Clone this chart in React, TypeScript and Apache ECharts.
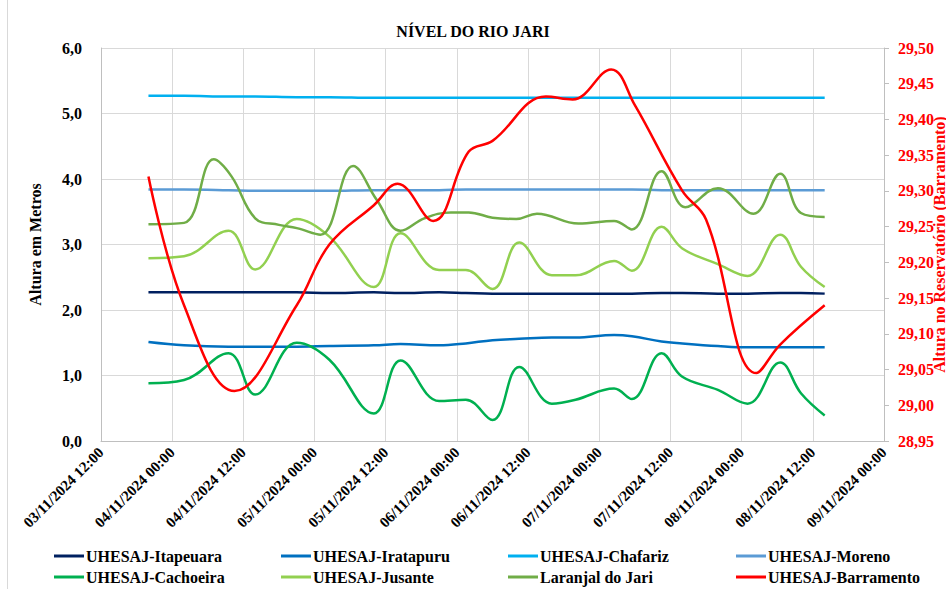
import React, { useEffect, useRef } from "react";
import * as echarts from "echarts";

// ---- data ----
const xTickStart = "03/11/2024 12:00";
const xTickEnd = "09/11/2024 00:00";

const timesMain = [
  "03/11/2024 20:00", "04/11/2024 02:00", "04/11/2024 09:30", "04/11/2024 14:00",
  "04/11/2024 21:00", "05/11/2024 02:30", "05/11/2024 10:00", "05/11/2024 14:30",
  "05/11/2024 21:00", "06/11/2024 01:30", "06/11/2024 06:00", "06/11/2024 10:30",
  "06/11/2024 16:00", "06/11/2024 20:00", "07/11/2024 02:30", "07/11/2024 05:30",
  "07/11/2024 10:30", "07/11/2024 14:00", "07/11/2024 20:00", "08/11/2024 01:00",
  "08/11/2024 06:30", "08/11/2024 10:00", "08/11/2024 14:00",
];
const itapeuara = [2.27, 2.27, 2.27, 2.27, 2.27, 2.26, 2.27, 2.26, 2.27, 2.26, 2.25, 2.25, 2.25, 2.25, 2.25, 2.25, 2.26, 2.26, 2.25, 2.25, 2.26, 2.26, 2.25];
const iratapuru = [1.51, 1.46, 1.44, 1.44, 1.44, 1.45, 1.46, 1.48, 1.46, 1.49, 1.54, 1.56, 1.58, 1.58, 1.62, 1.60, 1.52, 1.49, 1.45, 1.43, 1.43, 1.43, 1.43];
const chafariz = [5.27, 5.27, 5.26, 5.26, 5.25, 5.25, 5.24, 5.24, 5.24, 5.24, 5.24, 5.24, 5.24, 5.24, 5.24, 5.24, 5.24, 5.24, 5.24, 5.24, 5.24, 5.24, 5.24];
const moreno = [3.84, 3.84, 3.83, 3.82, 3.82, 3.82, 3.83, 3.83, 3.83, 3.84, 3.84, 3.84, 3.84, 3.84, 3.84, 3.84, 3.83, 3.83, 3.83, 3.83, 3.83, 3.83, 3.83];
const cachoeira = [0.88, 0.93, 1.34, 0.71, 1.50, 1.24, 0.42, 1.23, 0.61, 0.63, 0.32, 1.13, 0.57, 0.63, 0.80, 0.64, 1.34, 0.98, 0.78, 0.57, 1.20, 0.73, 0.39];
const jusante = [2.79, 2.82, 3.21, 2.62, 3.39, 3.12, 2.35, 3.17, 2.61, 2.61, 2.32, 3.03, 2.53, 2.53, 2.75, 2.60, 3.27, 2.94, 2.70, 2.52, 3.15, 2.66, 2.35];

const timesLaranjal = [
  "03/11/2024 20:00", "04/11/2024 02:00", "04/11/2024 07:00", "04/11/2024 10:00",
  "04/11/2024 14:00", "04/11/2024 18:00", "04/11/2024 21:00", "05/11/2024 01:00",
  "05/11/2024 06:30", "05/11/2024 10:30", "05/11/2024 14:30", "05/11/2024 18:30",
  "05/11/2024 23:00", "06/11/2024 02:00", "06/11/2024 06:00", "06/11/2024 10:00",
  "06/11/2024 13:30", "06/11/2024 20:30", "07/11/2024 02:30", "07/11/2024 05:30",
  "07/11/2024 10:30", "07/11/2024 14:30", "07/11/2024 20:00", "08/11/2024 02:00",
  "08/11/2024 06:30", "08/11/2024 10:00", "08/11/2024 14:00",
];
const laranjal = [3.31, 3.33, 4.30, 4.04, 3.40, 3.30, 3.25, 3.15, 4.20, 3.68, 3.21, 3.40, 3.49, 3.49, 3.41, 3.39, 3.47, 3.32, 3.36, 3.23, 4.12, 3.57, 3.86, 3.47, 4.08, 3.48, 3.42];

const timesBarramento = [
  "03/11/2024 20:00", "04/11/2024 02:00", "04/11/2024 10:30", "04/11/2024 21:00",
  "05/11/2024 02:30", "05/11/2024 10:00", "05/11/2024 14:00", "05/11/2024 20:00",
  "06/11/2024 02:00", "06/11/2024 06:00", "06/11/2024 15:00", "06/11/2024 19:30",
  "07/11/2024 02:00", "07/11/2024 06:00", "07/11/2024 14:00", "07/11/2024 18:00",
  "08/11/2024 02:30", "08/11/2024 06:30", "08/11/2024 14:00",
];
const barramento = [29.32, 29.14, 29.02, 29.14, 29.225, 29.28, 29.31, 29.258, 29.355, 29.37, 29.432, 29.428, 29.47, 29.42, 29.30, 29.26, 29.045, 29.085, 29.14];

const seriesNames = [
  "UHESAJ-Itapeuara", "UHESAJ-Iratapuru", "UHESAJ-Chafariz", "UHESAJ-Moreno",
  "UHESAJ-Cachoeira", "UHESAJ-Jusante", "Laranjal do Jari", "UHESAJ-Barramento",
];
const seriesColors = ["#002060", "#0070C0", "#00B0F0", "#5B9BD5", "#00B050", "#92D050", "#70AD47", "#FF0000"];

// ---- helpers ----
const FONT = "'Liberation Serif', 'Times New Roman', serif";
const toMs = (s: string) => {
  const [d, t] = s.split(" ");
  const [dd, mm, yy] = d.split("/").map(Number);
  const [hh, mi] = t.split(":").map(Number);
  return Date.UTC(yy, mm - 1, dd, hh, mi);
};
const T0 = toMs(xTickStart);
const hours = (s: string) => (toMs(s) - T0) / 3600000;
const pad = (n: number) => String(n).padStart(2, "0");
const fmtHour = (h: number) => {
  const d = new Date(T0 + h * 3600000);
  return `${pad(d.getUTCDate())}/${pad(d.getUTCMonth() + 1)}/${d.getUTCFullYear()} ${pad(d.getUTCHours())}:${pad(d.getUTCMinutes())}`;
};
const pairs = (ts: string[], vs: number[]) => ts.map((t, i) => [hours(t), vs[i]]);

export default function App() {
  const ref = useRef<HTMLDivElement>(null);
  useEffect(() => {
    if (!ref.current) return;
    const chart = echarts.init(ref.current, undefined, { renderer: "svg" });
    const dataSets = [
      pairs(timesMain, itapeuara),
      pairs(timesMain, iratapuru),
      pairs(timesMain, chafariz),
      pairs(timesMain, moreno),
      pairs(timesMain, cachoeira),
      pairs(timesMain, jusante),
      pairs(timesLaranjal, laranjal),
      pairs(timesBarramento, barramento),
    ];
    const colLeft = [54, 281, 508, 736];
    const rowTop = [548, 569];
    const legends = seriesNames.map((n, i) => ({
      data: [n],
      left: colLeft[i % 4],
      top: rowTop[Math.floor(i / 4)],
      icon: "rect",
      itemWidth: 30,
      itemHeight: 3,
      itemGap: 0,
      padding: 0,
      textStyle: { fontFamily: FONT, fontWeight: "bold", fontSize: 16, color: "#000", padding: [0, 0, 0, -3] },
    }));
    chart.setOption({
      animation: false,
      backgroundColor: "#fff",
      title: {
        text: "NÍVEL DO RIO JARI",
        left: "center",
        top: 18,
        textStyle: { fontFamily: FONT, fontWeight: "bold", fontSize: 16, color: "#000" },
      },
      legend: legends,
      grid: { left: 101, right: 62, top: 48, bottom: 148, containLabel: false, outerBoundsMode: "none" },
      xAxis: {
        type: "value",
        min: hours(xTickStart),
        max: hours(xTickEnd),
        interval: 12,
        axisLine: { show: true, lineStyle: { color: "#bfbfbf", width: 1 } },
        axisTick: { show: false },
        splitLine: { show: true, lineStyle: { color: "#d9d9d9", width: 1 } },
        axisLabel: {
          rotate: 45,
          margin: 9,
          formatter: (v: number) => fmtHour(v),
          fontFamily: FONT,
          fontWeight: "bold",
          fontSize: 15,
          color: "#000",
          showMinLabel: true,
          showMaxLabel: true,
        },
      },
      yAxis: [
        {
          type: "value",
          min: 0,
          max: 6,
          interval: 1,
          position: "left",
          name: "Altura em Metros",
          nameLocation: "middle",
          nameGap: 58,
          nameMoveOverlap: false,
          nameTextStyle: { fontFamily: FONT, fontWeight: "bold", fontSize: 16, color: "#000" },
          axisLine: { show: true, lineStyle: { color: "#bfbfbf", width: 1 } },
          axisTick: { show: false },
          splitLine: { show: true, lineStyle: { color: "#d9d9d9", width: 1 } },
          axisLabel: {
            margin: 19,
            formatter: (v: number) => v.toFixed(1).replace(".", ","),
            fontFamily: FONT,
            fontWeight: "bold",
            fontSize: 16,
            color: "#000",
          },
        },
        {
          type: "value",
          min: 28.95,
          max: 29.5,
          interval: 0.05,
          position: "right",
          name: "Altura no Reservatório (Barramento)",
          nameLocation: "middle",
          nameRotate: 90,
          nameGap: 47,
          nameMoveOverlap: false,
          nameTextStyle: { fontFamily: FONT, fontWeight: "bold", fontSize: 16, color: "#FF0000" },
          axisLine: { show: true, lineStyle: { color: "#bfbfbf", width: 1 } },
          axisTick: { show: true, inside: false, length: 5, lineStyle: { color: "#bfbfbf" } },
          splitLine: { show: false },
          axisLabel: {
            margin: 14,
            formatter: (v: number) => v.toFixed(2).replace(".", ","),
            fontFamily: FONT,
            fontWeight: "bold",
            fontSize: 16,
            color: "#FF0000",
          },
        },
      ],
      graphic: [
        { type: "line", shape: { x1: 7.5, y1: 0, x2: 7.5, y2: 589 }, style: { stroke: "#d9d9d9", lineWidth: 1 } },
      ],
      series: seriesNames.map((n, i) => ({
        name: n,
        type: "line",
        yAxisIndex: i === 7 ? 1 : 0,
        data: dataSets[i],
        smooth: 0.4,
        showSymbol: false,
        symbol: "none",
        color: seriesColors[i],
        lineStyle: { color: seriesColors[i], width: 2.5 },
        z: i === 7 ? 3 : 2,
      })),
    });
    return () => chart.dispose();
  }, []);
  return <div ref={ref} style={{ position: "fixed", left: 0, top: 0, width: 946, height: 589 }} />;
}
